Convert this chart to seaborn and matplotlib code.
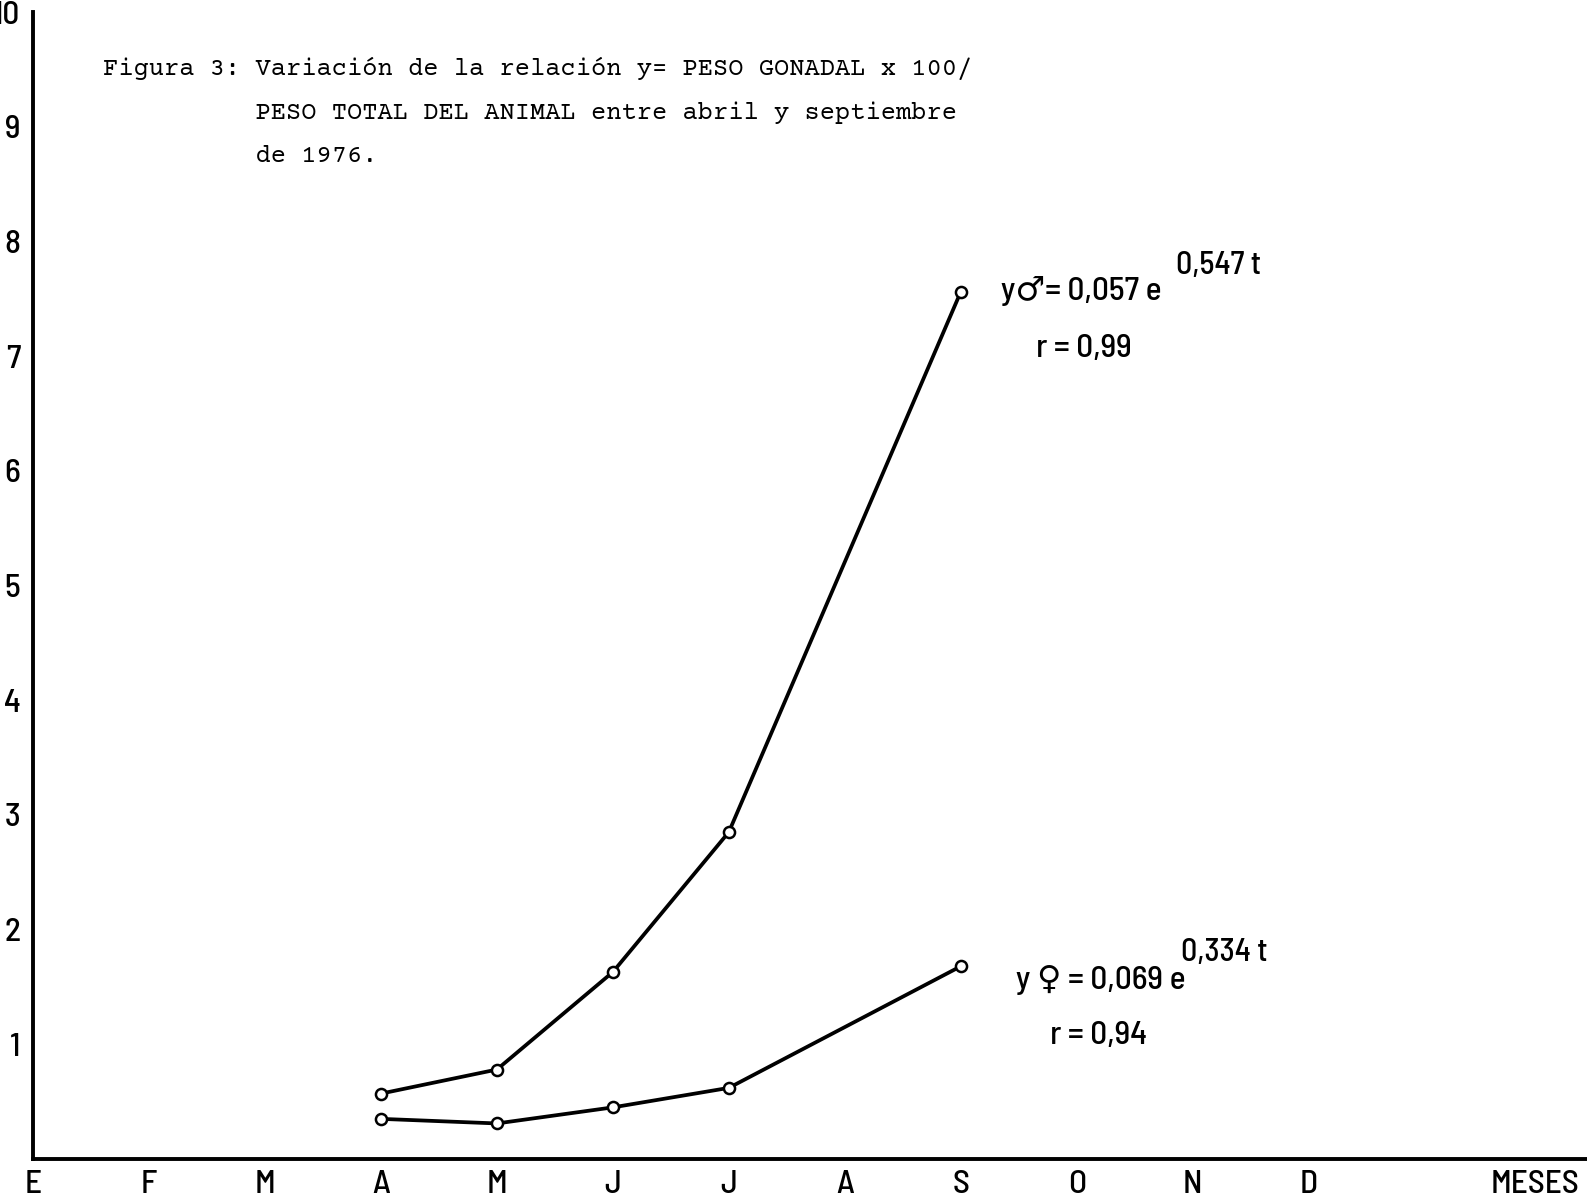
import matplotlib
matplotlib.use("Agg")
import matplotlib.pyplot as plt
import seaborn as sns
import pandas as pd

# datos (relacion gonadosomatica, 1976)
meses = ["E", "F", "M", "A", "M", "J", "J", "A", "S", "O", "N", "D"]
mes_muestra = [3, 4, 5, 6, 8]  # abril, mayo, junio, julio, septiembre
y_machos = [0.57, 0.78, 1.63, 2.85, 7.56]
y_hembras = [0.35, 0.31, 0.45, 0.62, 1.68]
y_ticks = [1, 2, 3, 4, 5, 6, 7, 8, 9, 10]

titulo = ("Figura 3: Variación de la relación y= PESO GONADAL x 100/\n"
          "          PESO TOTAL DEL ANIMAL entre abril y septiembre\n"
          "          de 1976.")

sns.set_style("white")
fuente = ["Barlow Semi Condensed", "DejaVu Sans"]
plt.rcParams["font.family"] = fuente
plt.rcParams["font.weight"] = "medium"
plt.rcParams["text.color"] = "black"

df = pd.DataFrame({
    "mes": mes_muestra * 2,
    "y": y_machos + y_hembras,
    "sexo": ["macho"] * len(y_machos) + ["hembra"] * len(y_hembras),
})

fig = plt.figure(figsize=(15.87, 11.99), dpi=100)
ax = fig.add_axes([33 / 1587, 40 / 1199, 1554 / 1587, 1147 / 1199])

for sexo in ["macho", "hembra"]:
    sns.lineplot(
        data=df[df["sexo"] == sexo],
        x="mes",
        y="y",
        color="black",
        linewidth=2.7,
        marker="o",
        markersize=8,
        markerfacecolor="white",
        markeredgecolor="black",
        markeredgewidth=1.8,
        ax=ax,
    )

ax.set_xlim(0, 13.4)
ax.set_ylim(0, 10)
ax.set_xlabel("")
ax.set_ylabel("")

ax.set_xticks(list(range(len(meses))) + [12.95])
ax.set_xticklabels(meses + ["MESES"], fontsize=24)
ax.xaxis.get_major_ticks()[-1].tick1line.set_visible(False)
ax.set_yticks(y_ticks)
ax.set_yticklabels([str(v) for v in y_ticks], fontsize=24)
ax.tick_params(axis="x", direction="in", length=7, width=2.2, pad=8, colors="black")
ax.tick_params(axis="y", direction="in", length=9, width=2.2, pad=9, colors="black")

for lado in ["top", "right"]:
    ax.spines[lado].set_visible(False)
for lado in ["left", "bottom"]:
    ax.spines[lado].set_linewidth(2.8)
    ax.spines[lado].set_color("black")

ax.text(0.6, 9.61, titulo, family=["Courier Prime", "DejaVu Sans Mono"],
        fontsize=18.3, fontweight="normal", va="top", ha="left", linespacing=2.23)

ax.text(8.35, 7.57, "y\u2642= 0,057 e", family=fuente, fontsize=24, va="center", ha="left")
ax.text(9.86, 7.79, "0,547 t", family=fuente, fontsize=23, va="center", ha="left")
ax.text(8.65, 7.07, "r = 0,99", family=fuente, fontsize=24, va="center", ha="left")
ax.text(8.48, 1.56, "y \u2640 = 0,069 e", family=fuente, fontsize=24, va="center", ha="left")
ax.text(9.90, 1.80, "0,334 t", family=fuente, fontsize=23, va="center", ha="left")
ax.text(8.77, 1.08, "r = 0,94", family=fuente, fontsize=24, va="center", ha="left")

fig.savefig("out.png", dpi=100)
